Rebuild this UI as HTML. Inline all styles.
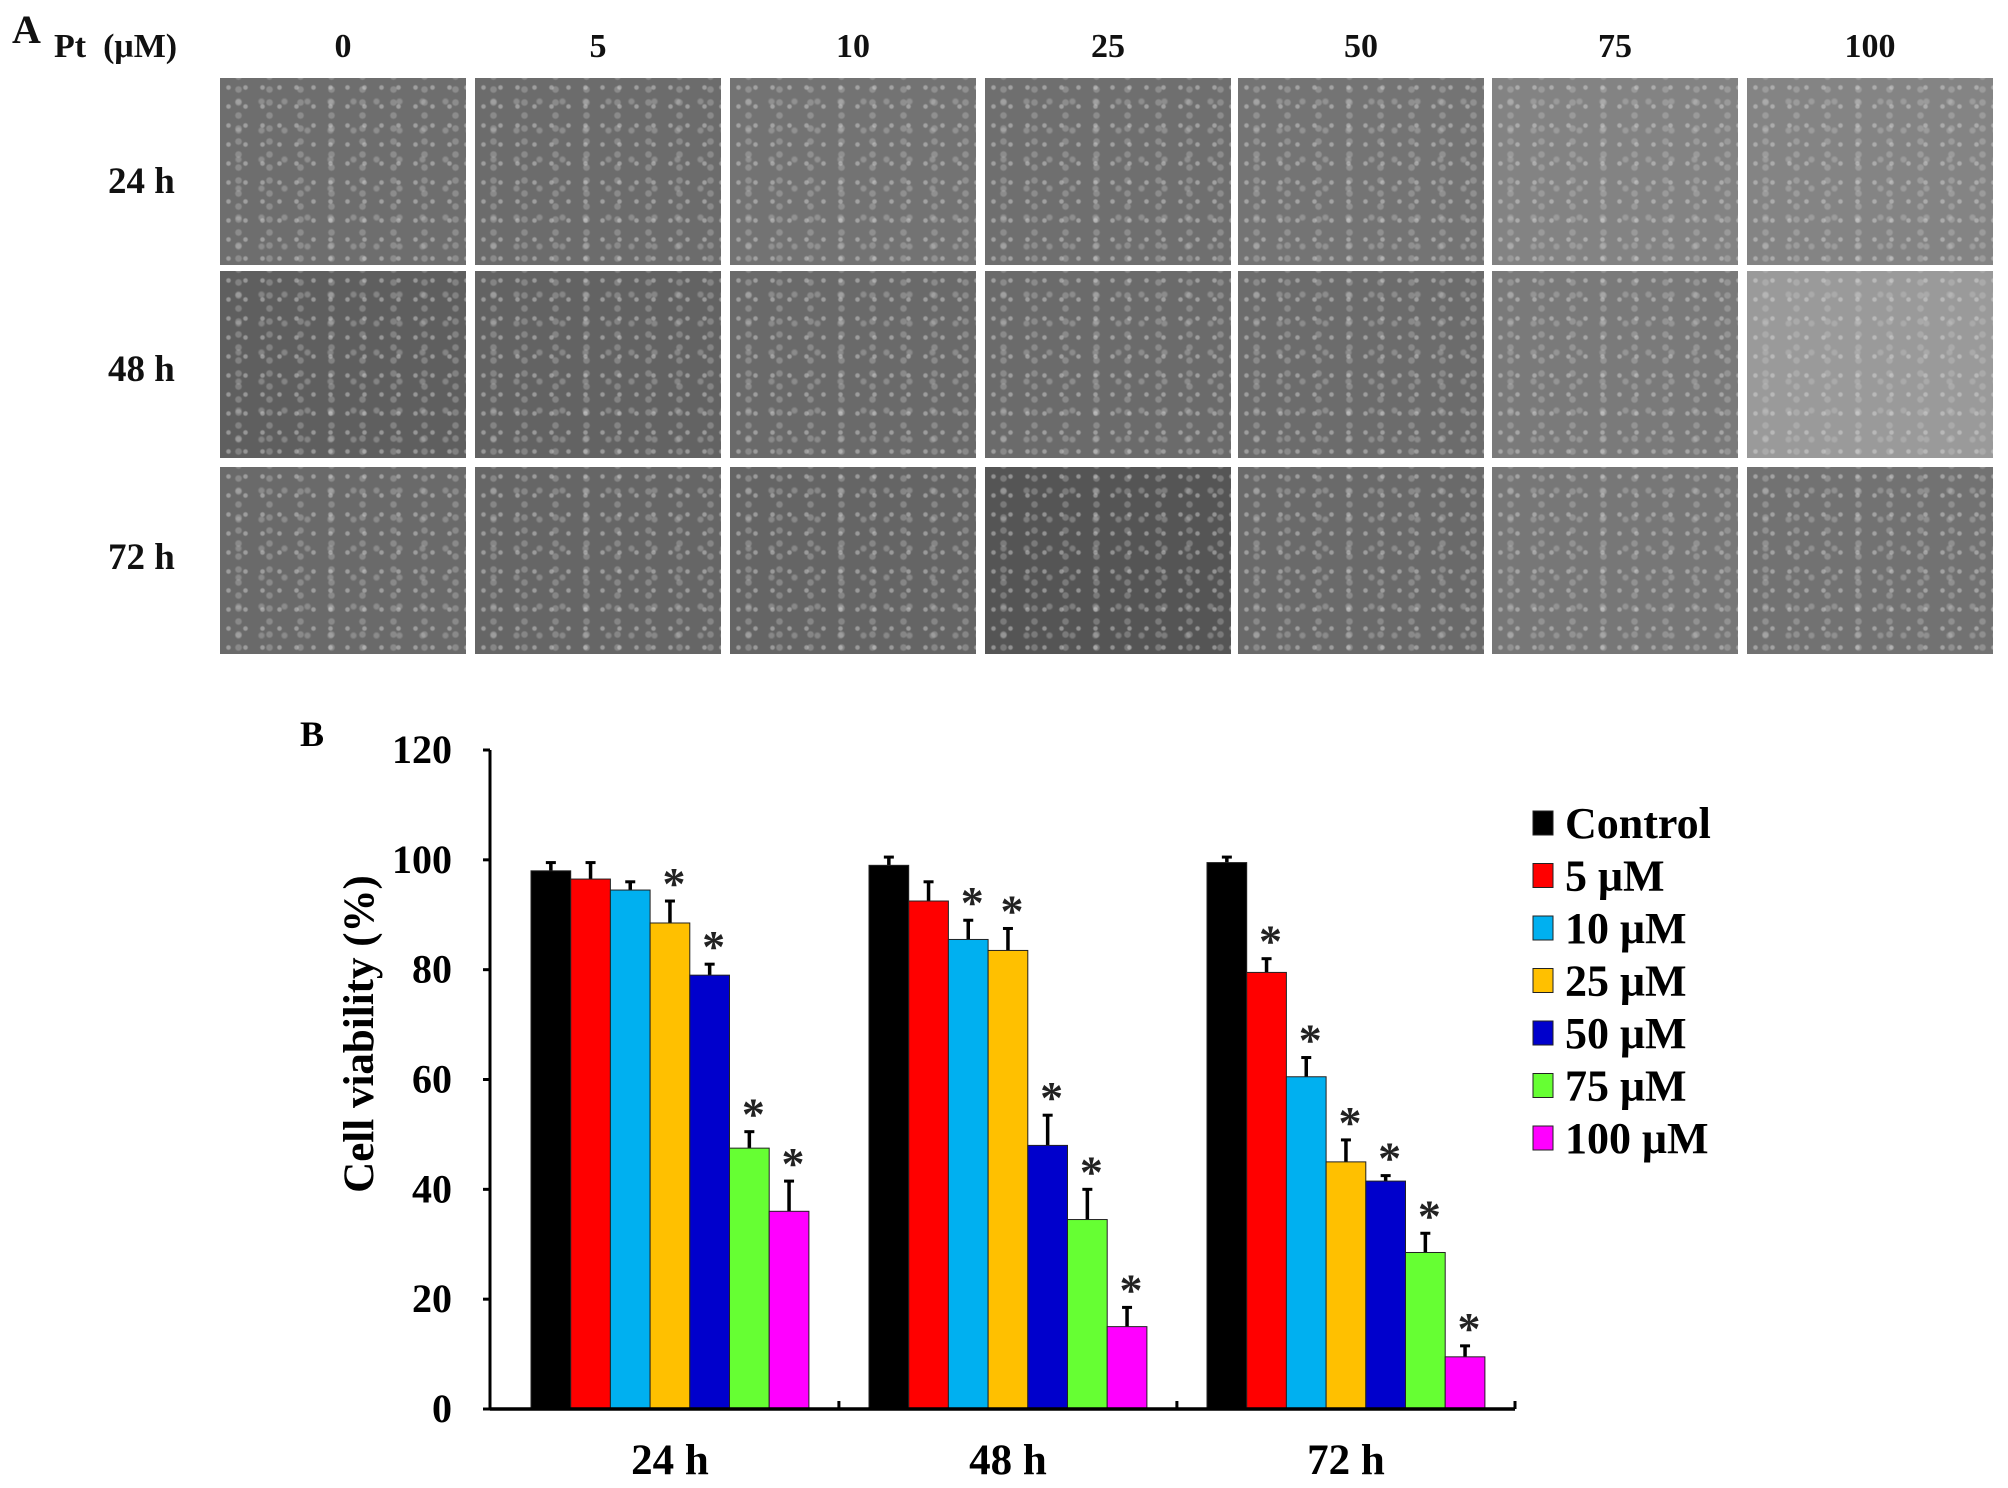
<!DOCTYPE html>
<html><head><meta charset="utf-8"><style>
body{margin:0;width:2008px;height:1488px;background:#fff;position:relative;overflow:hidden;font-family:"Liberation Serif",serif;font-weight:bold;color:#111}
.t{position:absolute;white-space:nowrap}
.img{position:absolute;background:#6f6f6f;background-image:radial-gradient(circle,rgba(220,220,220,.45) 1.5px,transparent 3px),radial-gradient(circle,rgba(200,200,200,.35) 2px,transparent 4px),radial-gradient(circle,rgba(210,210,210,.3) 2.5px,transparent 4px);background-size:17px 19px,23px 29px,31px 13px;background-position:0 0,7px 9px,3px 5px}
</style></head><body>
<div class="t" style="left:12px;top:6px;font-size:40px">A</div>
<div class="t" style="left:54px;top:28px;font-size:34px">Pt&nbsp; (μM)</div>
<div id="grid"></div>
<svg id="chart" width="2008" height="1488" style="position:absolute;left:0;top:0"></svg>
<script>
const concLabels=["0","5","10","25","50","75","100"];
const timeLabels=["24 h","48 h","72 h"];
const colX=[220,475,730,985,1238,1492,1747], colW=246;
const rowY=[78,271,467], rowH=187;
const labelCY=[183,371,559];
const shade=[["#6e6e6e","#6c6c6c","#737373","#6f6f6f","#747474","#838383","#848484"],["#5f5f5f","#636363","#6a6a6a","#6b6b6b","#6c6c6c","#7a7a7a","#9a9a9a"],["#6a6a6a","#666666","#656565","#555555","#6a6a6a","#777777","#727272"]];
const g=document.getElementById('grid');
concLabels.forEach((c,i)=>{const d=document.createElement('div');d.className='t';


d.style.cssText=`left:${colX[i]}px;width:${colW}px;text-align:center;top:28px;font-size:34px`;d.textContent=c;g.appendChild(d);});
timeLabels.forEach((t,r)=>{const d=document.createElement('div');d.className='t';


d.style.cssText=`left:108px;top:${labelCY[r]-23}px;font-size:37px`;d.textContent=t;g.appendChild(d);
colX.forEach((x,i)=>{const m=document.createElement('div');m.className='img';


m.style.cssText=`left:${x}px;top:${rowY[r]}px;width:${colW}px;height:${rowH}px;background-color:${shade[r][i]}`;g.appendChild(m);});});

// chart data
const groups=["24 h","48 h","72 h"];
const seriesNames=["Control","5 μM","10 μM","25 μM","50 μM","75 μM","100 μM"];
const v24=[98,96.5,94.5,88.5,79,47.5,36];
const v48=[99,92.5,85.5,83.5,48,34.5,15];
const v72=[99.5,79.5,60.5,45,41.5,28.5,9.5];
const e24=[1.5,3,1.5,4,2,3,5.5];
const e48=[1.5,3.5,3.5,4,5.5,5.5,3.5];
const e72=[1,2.5,3.5,4,1,3.5,2];
const s24=[0,0,0,1,1,1,1];
const s48=[0,0,1,1,1,1,1];
const s72=[0,1,1,1,1,1,1];
const yTicks=[0,20,40,60,80,100,120];
const colors=["#000000","#ff0000","#00b0f0","#ffc000","#0000cc","#66ff33","#ff00ff"];
const vals=[v24,v48,v72],errs=[e24,e48,e72],stars=[s24,s48,s72];
const X0=490,X1=1515,Y0=1409,Y120=750;
const y=v=>Y0-(v/120)*(Y0-Y120);
const band=338,bw=39.7,off=41;
const svg=document.getElementById('chart');const NS="http://www.w3.org/2000/svg";
function el(tag,a,txt){const e=document.createElementNS(NS,tag);for(const k in a)e.setAttribute(k,a[k]);if(txt!=null)e.textContent=txt;svg.appendChild(e);return e;}
const ff='"Liberation Serif",serif';
let e;
e=el('text',{x:300,y:746,'font-size':36,'font-family':ff,'font-weight':'bold'},'B');


yTicks.forEach(t=>{
 e=el('text',{x:452,y:y(t)+13,'font-size':40,'font-family':ff,'font-weight':'bold','text-anchor':'end'},String(t));
 
 
 e=el('line',{x1:X0-7,x2:X0,y1:y(t),y2:y(t),stroke:'#000','stroke-width':3});
 
 
});
e=el('text',{x:0,y:0,'font-size':43,'font-family':ff,'font-weight':'bold','text-anchor':'middle',transform:`translate(373,1034) rotate(-90)`},'Cell viability (%)');


groups.forEach((gname,gi)=>{
 const gx=X0+off+gi*band;
 e=el('text',{x:gx+3.5*bw,y:1474,'font-size':43,'font-family':ff,'font-weight':'bold','text-anchor':'middle'},gname);
 
 
 if(gi<2){
 e=el('line',{x1:gx+7*bw+30,x2:gx+7*bw+30,y1:Y0,y2:Y0-8,stroke:'#000','stroke-width':3});
 
 }
 vals[gi].forEach((v,i)=>{
  const bx=gx+i*bw, top=y(v), et=y(v+errs[gi][i]);
  e=el('line',{x1:bx+bw/2,x2:bx+bw/2,y1:top,y2:et,stroke:'#000','stroke-width':3.5});
  
  
  e=el('line',{x1:bx+bw/2-5,x2:bx+bw/2+5,y1:et,y2:et,stroke:'#000','stroke-width':3});
  
  
  e=el('rect',{x:bx,y:top,width:bw,height:Y0-top,fill:colors[i],stroke:'#222','stroke-width':1});
  
  
  if(stars[gi][i]){
   e=el('text',{x:bx+bw/2+4,y:et-2,'font-size':46,'font-family':ff,'text-anchor':'middle',fill:'#222'},'*');
   
   
  }
 });
});
e=el('line',{x1:X0,x2:X0,y1:Y120,y2:Y0,stroke:'#000','stroke-width':3});


e=el('line',{x1:X0,x2:X1,y1:Y0,y2:Y0,stroke:'#000','stroke-width':3.5});


e=el('line',{x1:X1,x2:X1,y1:Y0,y2:Y0-8,stroke:'#000','stroke-width':3});


seriesNames.forEach((n,i)=>{
 const ly=823+i*52.5;
 e=el('rect',{x:1533,y:ly-12,width:20,height:24,fill:colors[i],stroke:'#222','stroke-width':1});
 
 
 e=el('text',{x:1565,y:ly+15,'font-size':44,'font-family':ff,'font-weight':'bold'},n);
 
 
});
</script>
</body></html>
